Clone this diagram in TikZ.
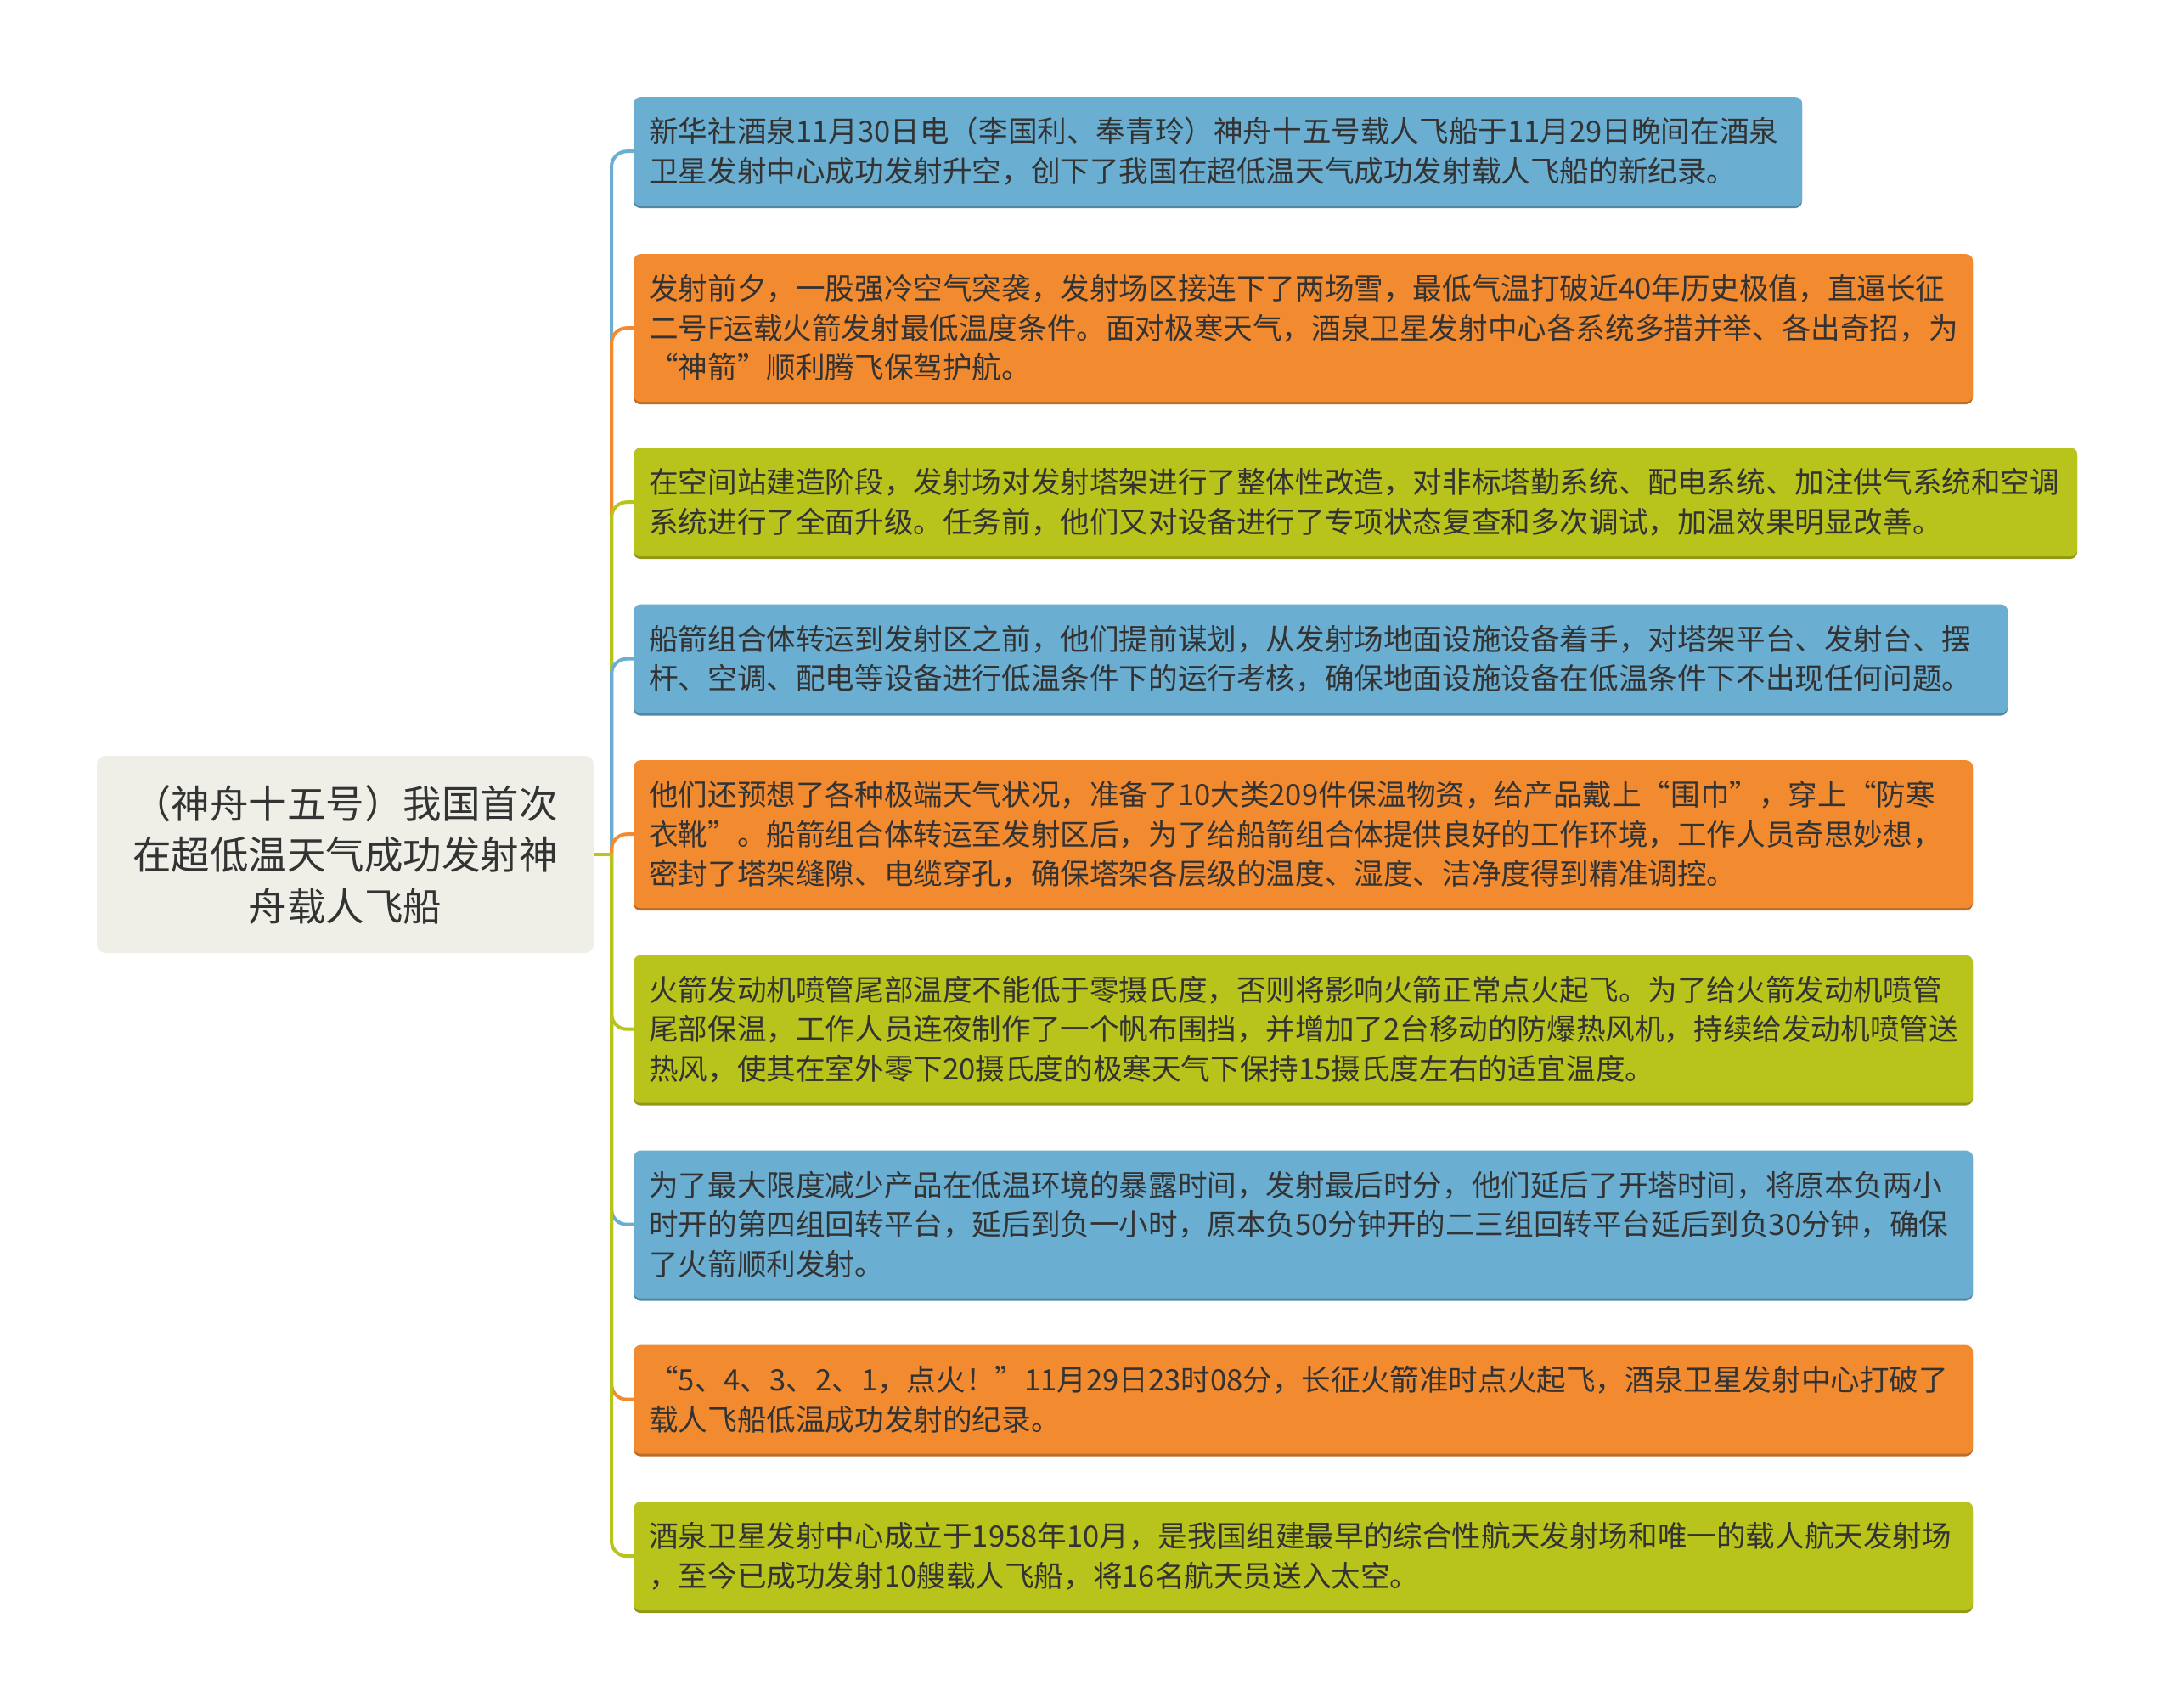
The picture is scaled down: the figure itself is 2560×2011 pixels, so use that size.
\documentclass[tikz,border=0pt]{standalone}
\usepackage{fontspec}
\usetikzlibrary{backgrounds}
\setmainfont{Noto Sans CJK SC}
\definecolor{cblue}{HTML}{6AAED1}
\definecolor{corange}{HTML}{F28A30}
\definecolor{cgreen}{HTML}{B8C31B}
\definecolor{croot}{HTML}{EFEFE8}
\definecolor{ctext}{HTML}{333333}
\newcommand\kidbox[7]{% name, color, top, width, height, textwidth, text
  \fill[#2!78!black, rounded corners=8pt] (746,#3+3) rectangle ++(#4,#5);
  \node[kid, fill=#2, minimum width=#4pt, minimum height=#5pt, text width=#6pt] (#1) at (746,#3) {#7};
}
\begin{document}
\begin{tikzpicture}[x=1pt,y=-1pt,
  kid/.style={draw=none, rounded corners=8pt, anchor=north west, inner xsep=18pt, inner ysep=0pt, align=left, font=\fontsize{34.6}{46.5}\selectfont, text=ctext},
  rootbox/.style={fill=croot, rounded corners=10pt, minimum width=585pt, minimum height=232pt, inner sep=0pt, align=center, font=\fontsize{45.5}{60.5}\selectfont, text=ctext},
  link/.style={line width=4pt}]
\useasboundingbox (0,0) rectangle (2560,2011);

\node[rootbox] (root) at (406.5,1006) {（神舟十五号）我国首次\\在超低温天气成功发射神\\舟载人飞船};
\coordinate (j) at (720,1006);

\kidbox{c1}{cblue}{114}{1376}{128}{1340}{新华社酒泉11月30日电（李国利、奉青玲）神舟十五号载人飞船于11月29日晚间在酒泉\\卫星发射中心成功发射升空，创下了我国在超低温天气成功发射载人飞船的新纪录。}
\kidbox{c2}{corange}{299}{1577}{174}{1541}{发射前夕，一股强冷空气突袭，发射场区接连下了两场雪，最低气温打破近40年历史极值，直逼长征\\二号F运载火箭发射最低温度条件。面对极寒天气，酒泉卫星发射中心各系统多措并举、各出奇招，为\\“神箭”顺利腾飞保驾护航。}
\kidbox{c3}{cgreen}{527}{1700}{128}{1664}{在空间站建造阶段，发射场对发射塔架进行了整体性改造，对非标塔勤系统、配电系统、加注供气系统和空调\\系统进行了全面升级。任务前，他们又对设备进行了专项状态复查和多次调试，加温效果明显改善。}
\kidbox{c4}{cblue}{711.5}{1618}{128}{1582}{船箭组合体转运到发射区之前，他们提前谋划，从发射场地面设施设备着手，对塔架平台、发射台、摆\\杆、空调、配电等设备进行低温条件下的运行考核，确保地面设施设备在低温条件下不出现任何问题。}
\kidbox{c5}{corange}{895}{1577}{174}{1541}{他们还预想了各种极端天气状况，准备了10大类209件保温物资，给产品戴上“围巾”，穿上“防寒\\衣靴”。船箭组合体转运至发射区后，为了给船箭组合体提供良好的工作环境，工作人员奇思妙想，\\密封了塔架缝隙、电缆穿孔，确保塔架各层级的温度、湿度、洁净度得到精准调控。}
\kidbox{c6}{cgreen}{1124.5}{1577}{174}{1541}{火箭发动机喷管尾部温度不能低于零摄氏度，否则将影响火箭正常点火起飞。为了给火箭发动机喷管\\尾部保温，工作人员连夜制作了一个帆布围挡，并增加了2台移动的防爆热风机，持续给发动机喷管送\\热风，使其在室外零下20摄氏度的极寒天气下保持15摄氏度左右的适宜温度。}
\kidbox{c7}{cblue}{1354.5}{1577}{174}{1541}{为了最大限度减少产品在低温环境的暴露时间，发射最后时分，他们延后了开塔时间，将原本负两小\\时开的第四组回转平台，延后到负一小时，原本负50分钟开的二三组回转平台延后到负30分钟，确保\\了火箭顺利发射。}
\kidbox{c8}{corange}{1583.5}{1577}{128}{1541}{“5、4、3、2、1，点火！”11月29日23时08分，长征火箭准时点火起飞，酒泉卫星发射中心打破了\\载人飞船低温成功发射的纪录。}
\kidbox{c9}{cgreen}{1768}{1577}{128}{1541}{酒泉卫星发射中心成立于1958年10月，是我国组建最早的综合性航天发射场和唯一的载人航天发射场\\，至今已成功发射10艘载人飞船，将16名航天员送入太空。}

\begin{pgfonlayer}{background}
\fill[white] (0,0) rectangle (2560,2011);
\foreach \t/\c in {c1/cblue,c2/corange,c3/cgreen,c4/cblue,c5/corange,c6/cgreen,c7/cblue,c8/corange,c9/cgreen}{
  \draw[link, \c, rounded corners=18pt] (j) -- (j |- \t.west) -- ([xshift=6pt]\t.west);
}
\draw[link, cgreen] (root.east) -- ([xshift=2pt]j);
\end{pgfonlayer}
\end{tikzpicture}
\end{document}
